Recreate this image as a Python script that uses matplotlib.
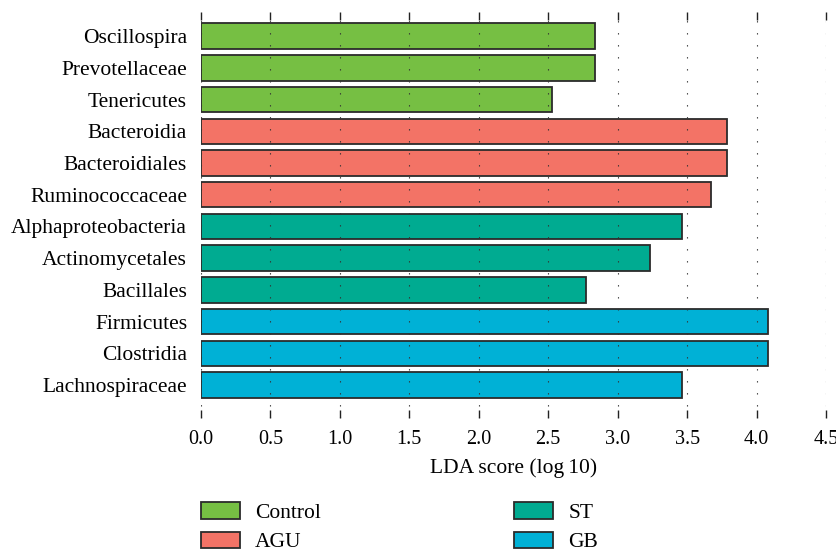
import matplotlib.pyplot as plt
import matplotlib.patches as mpatches

plt.rcParams['font.family'] = ['Liberation Serif', 'DejaVu Serif']

taxa = ['Oscillospira', 'Prevotellaceae', 'Tenericutes',
        'Bacteroidia', 'Bacteroidiales', 'Ruminococcaceae',
        'Alphaproteobacteria', 'Actinomycetales', 'Bacillales',
        'Firmicutes', 'Clostridia', 'Lachnospiraceae']
lda = [2.84, 2.84, 2.53,
       3.79, 3.79, 3.67,
       3.46, 3.23, 2.77,
       4.08, 4.08, 3.46]
group = ['Control', 'Control', 'Control',
         'AGU', 'AGU', 'AGU',
         'ST', 'ST', 'ST',
         'GB', 'GB', 'GB']
group_colors = {'Control': '#76BF43', 'AGU': '#F37366',
                'ST': '#00AB91', 'GB': '#00B1D6'}
legend_cols = [['Control', 'AGU'], ['ST', 'GB']]

fig = plt.figure(figsize=(8.37, 5.52), dpi=100)
ax = fig.add_axes([201 / 837, 1 - 418 / 552, 625 / 837, 406 / 552])

y = list(range(len(taxa)))
ax.barh(y, lda, height=0.8, color=[group_colors[g] for g in group],
        edgecolor='#2b2b2b', linewidth=1.3, zorder=1)

ax.set_xlim(0, 4.5)
ax.set_ylim(len(taxa) - 1 + 1.04, -0.76)
ax.set_xticks([i * 0.5 for i in range(10)])
ax.set_xticklabels(['%.1f' % (i * 0.5) for i in range(10)])
ax.set_yticks(y)
ax.set_yticklabels(taxa)
for s in ax.spines.values():
    s.set_visible(False)
ax.tick_params(axis='x', direction='in', top=True, bottom=True,
               length=6, width=1, color='#222222', pad=9, labelsize=14.5)
ax.tick_params(axis='y', length=0, pad=10, labelsize=15.5)
ax.grid(axis='x', color='#333333', linewidth=0.8,
        linestyle=(0, (1.2, 9.6)), zorder=3)
ax.set_axisbelow(False)
ax.set_xlabel('LDA score (log\u200910)', fontsize=15.5, labelpad=6)

# two legend columns placed separately
for col, x0 in zip(legend_cols, [182, 495]):
    handles = [mpatches.Patch(facecolor=group_colors[g], edgecolor='#2b2b2b',
                              linewidth=1.3, label=g) for g in col]
    fig.legend(handles=handles, loc='upper left',
               bbox_to_anchor=(x0 / 837, 1 - 483 / 552), frameon=False,
               fontsize=15.5, handlelength=1.8, handleheight=0.8,
               labelspacing=0.4, handletextpad=0.7)

fig.savefig('out.png', dpi=100)
